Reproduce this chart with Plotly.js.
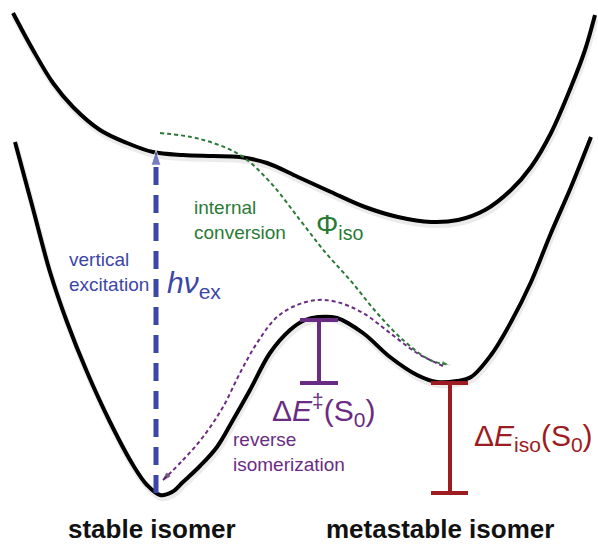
<!DOCTYPE html>
<html>
<head>
<meta charset="utf-8">
<script src="https://cdn.plot.ly/plotly-3.0.1.min.js"></script>
<style>html,body{margin:0;padding:0;background:#fff;}#chart{width:598px;height:544px;}</style>
</head>
<body>
<div id="chart"></div>
<script>
// Reaction coordinate (x) and energy (y) of the schematic surfaces
const s1X = [13,33,53,73,100,127,153,183,213,240,267,298,331,365,398,431,458,485,511,531,551,571,585,595];
const s1E = [531,494,461,437,414,401,392,389,388,387,381,367,352,337,327,322,324,334,354,377,411,457,494,529];

const s0X = [15,32,50,67,87,110,133,147,160,172,183,200,217,233,250,270,290,305,318,337,363,390,417,437,457,471,491,511,531,551,571,591];
const s0E = [402,339,272,222,172,122,79,59,49,52,62,78,97,124,154,191,214,224,227,226,211,187,169,162,163,167,189,222,262,311,357,407];

// internal conversion path (S1 -> S0 metastable)
const icX = [160,200,240,270,300,325,350,377,403,430,450];
const icE = [411,405,389,362,324,292,264,231,204,184,179];

// reverse isomerization path (metastable -> stable)
const revX = [443,417,390,363,337,317,297,277,257,240,223,203,183,163];
const revE = [178,191,211,231,242,244,239,227,201,171,137,107,84,64];

// vertical excitation
const excX = [156,156];
const excE = [51,394];

// energy levels
const stableE = 51;
const barrierE = 224;
const metaE = 161;
const barrierBarX = 319;
const isoBarX = 450;

const labels = {
  ic: "internal<br>conversion",
  vert: "vertical<br>excitation",
  hv: "<i>hν</i><sub>ex</sub>",
  phi: "Φ<sub>iso</sub>",
  dEts: "Δ<i>E</i><sup>‡</sup>(S<sub>0</sub>)",
  rev: "reverse<br>isomerization",
  dEiso: "Δ<i>E</i><sub>iso</sub>(S<sub>0</sub>)",
  stable: "<b>stable isomer</b>",
  meta: "<b>metastable isomer</b>"
};

const FONT = "Liberation Sans, Arial, sans-serif";
const BLUE = "#3c46a8", GREEN = "#2a7a36", PURPLE = "#6a2c82", RED = "#9d1c21";

function arrowSizes(n, s){ const a = new Array(n).fill(0); a[n-1] = s; return a; }
function shadow(xs, es){
  return {x:xs.map(v=>v+1), y:es.map(v=>v-3), mode:"lines",
          line:{color:"rgba(0,0,0,0.08)", width:6, shape:"spline", smoothing:1}};
}

const traces = [
  shadow(s1X, s1E),
  shadow(s0X, s0E),
  {x:s1X, y:s1E, mode:"lines", line:{color:"#000", width:4, shape:"spline", smoothing:1}},
  {x:s0X, y:s0E, mode:"lines", line:{color:"#000", width:4, shape:"spline", smoothing:1}},
  {x:excX, y:excE, mode:"lines+markers", line:{color:BLUE, width:5, dash:"18px,10px"},
   marker:{symbol:"arrow", angleref:"previous", size:arrowSizes(2,16), color:BLUE}},
  {x:icX, y:icE, mode:"lines+markers", line:{color:GREEN, width:2, dash:"4px,3px", shape:"spline"},
   marker:{symbol:"arrow", angleref:"previous", size:arrowSizes(icX.length,9), color:GREEN}},
  {x:revX, y:revE, mode:"lines+markers", line:{color:PURPLE, width:2, dash:"4px,3px", shape:"spline"},
   marker:{symbol:"arrow", angleref:"previous", size:arrowSizes(revX.length,8), color:"#2a1838"}},
  // barrier bar
  {x:[barrierBarX-19,barrierBarX+19,null,barrierBarX,barrierBarX,null,barrierBarX-19,barrierBarX+19],
   y:[barrierE,barrierE,null,barrierE,metaE,null,metaE,metaE], mode:"lines", line:{color:PURPLE,width:4}},
  // isomerization energy bar
  {x:[isoBarX-19,isoBarX+18,null,isoBarX,isoBarX,null,isoBarX-19,isoBarX+18],
   y:[metaE,metaE,null,metaE,stableE,null,stableE,stableE], mode:"lines", line:{color:RED,width:4}}
];

function ann(text, x, y, size, color, xa){
  return {text:text, x:x, y:y, xref:"x", yref:"y", showarrow:false,
    xanchor:xa||"left", yanchor:"middle", align:"left",
    font:{family:FONT, size:size, color:color}};
}

const layout = {
  width:598, height:544,
  margin:{l:0,r:0,t:0,b:0},
  paper_bgcolor:"#fff", plot_bgcolor:"#fff",
  showlegend:false,
  xaxis:{range:[0,598], visible:false, fixedrange:true},
  yaxis:{range:[0,544], visible:false, fixedrange:true},
  annotations:[
    ann(labels.ic, 192, 324, 19, GREEN),
    ann(labels.vert, 67, 272, 19, BLUE),
    ann(labels.hv, 165, 260, 30, BLUE),
    ann(labels.phi, 314, 318, 28, GREEN),
    ann(labels.dEts, 270, 134, 30, PURPLE),
    ann(labels.rev, 231, 92, 19, PURPLE),
    ann(labels.dEiso, 472, 107, 30, RED),
    ann(labels.stable, 152, 15, 26, "#111", "center"),
    ann(labels.meta, 440, 15, 26, "#111", "center")
  ]
};

Plotly.newPlot("chart", traces, layout, {staticPlot:true, displayModeBar:false});
</script>
</body>
</html>
